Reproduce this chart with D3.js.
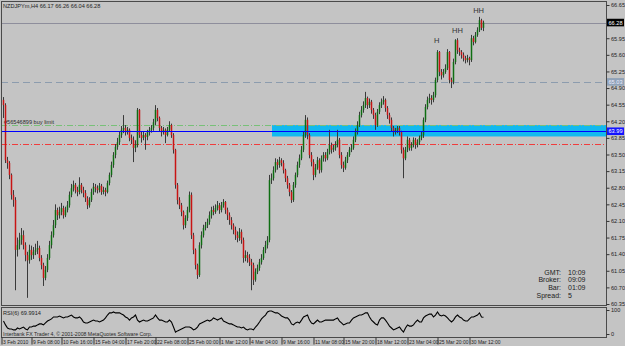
<!DOCTYPE html>
<html><head><meta charset="utf-8">
<script src="https://cdn.jsdelivr.net/npm/d3@7"></script>
<style>body{margin:0;background:#c4c4c4}svg{display:block}text{font-family:"Liberation Sans",Arial,sans-serif}</style>
</head><body><svg id="c" width="625" height="346"></svg>
<script>
// ---------------- DATA ----------------
const symbolTitle = "NZDJPYm,H4 66.17 66.26 66.04 66.28";
const firstOpen = 64.65;
const closes = [
64.54,63.38,63.32,63.07,62.65,62.54,61.49,61.59,61.70,61.80,
61.59,61.38,61.27,61.49,61.38,61.45,61.49,61.53,61.32,61.17,
60.90,61.07,61.32,61.59,61.80,62.01,62.33,62.22,62.29,62.37,
62.22,62.33,62.43,62.65,62.79,62.86,62.75,62.71,62.86,62.75,
62.69,62.58,62.43,62.54,62.71,62.82,62.79,62.75,62.84,62.71,
62.75,62.71,62.90,63.07,63.28,63.49,63.66,63.76,63.91,64.02,
64.06,63.97,64.02,63.85,63.81,63.64,63.70,64.44,63.91,63.85,
63.91,63.87,63.97,64.02,64.06,64.18,64.44,64.27,64.06,63.97,
64.02,63.91,64.02,64.12,63.91,63.60,62.86,62.54,62.43,62.29,
62.01,62.16,62.33,62.65,61.80,61.49,61.17,60.96,61.59,61.80,
61.95,62.01,62.08,62.22,62.33,62.29,62.37,62.43,62.33,62.43,
62.50,62.33,62.22,62.12,62.01,61.91,61.80,61.74,61.87,61.70,
61.32,61.38,61.32,61.23,61.17,60.86,61.03,61.11,61.23,61.32,
61.49,61.59,61.70,62.96,63.00,63.17,63.34,63.28,63.38,63.32,
63.17,63.00,62.86,62.71,62.54,62.86,63.07,63.28,63.42,63.60,
63.91,64.23,63.91,63.49,63.34,63.07,63.22,63.38,63.17,63.42,
63.49,63.42,63.55,63.70,63.60,63.64,63.70,63.81,63.49,63.28,
63.22,63.38,63.49,63.60,63.64,63.81,63.97,64.12,64.33,64.44,
64.54,64.69,64.54,64.61,64.44,64.33,64.12,64.40,64.54,64.61,
64.65,64.48,64.33,64.23,64.06,63.97,64.02,64.06,63.97,63.60,
63.42,63.60,63.81,63.64,63.70,63.81,63.70,63.76,63.85,63.91,
64.23,64.50,64.65,64.69,64.65,64.75,65.07,65.66,65.24,65.17,
65.24,65.32,65.66,65.07,65.03,65.45,65.91,65.70,65.66,65.60,
65.53,65.49,65.53,65.49,65.95,65.87,66.02,66.12,66.33,66.17,
66.28];
const highs = [
64.71,64.58,63.45,63.36,63.10,62.75,62.60,61.75,61.85,61.95,
61.90,61.65,61.45,61.60,61.58,61.55,61.62,61.68,61.58,61.38,
61.22,61.15,61.40,61.68,61.88,62.12,62.45,62.38,62.40,62.48,
62.42,62.40,62.52,62.72,62.88,62.95,62.90,62.82,63.02,62.90,
62.82,62.75,62.62,62.60,62.78,62.90,62.88,62.85,62.90,62.88,
62.82,62.80,62.95,63.12,63.35,63.55,63.72,63.85,63.98,64.10,
64.33,64.12,64.08,64.05,63.92,63.88,63.80,64.48,64.46,63.98,
63.98,63.95,64.02,64.08,64.12,64.25,64.54,64.48,64.30,64.10,
64.08,64.05,64.08,64.20,64.15,63.95,63.62,62.90,62.60,62.48,
62.32,62.22,62.40,62.72,62.70,61.85,61.52,61.20,61.65,61.88,
62.02,62.08,62.15,62.30,62.40,62.42,62.45,62.52,62.48,62.50,
62.56,62.52,62.38,62.28,62.18,62.05,61.98,61.88,61.95,61.92,
61.75,61.48,61.45,61.40,61.30,61.22,61.10,61.18,61.30,61.40,
61.55,61.68,61.78,63.07,63.10,63.25,63.42,63.40,63.45,63.42,
63.38,63.20,63.05,62.90,62.75,62.92,63.12,63.35,63.50,63.68,
63.98,64.33,64.28,63.95,63.55,63.40,63.30,63.45,63.42,63.48,
63.55,63.55,63.62,64.02,63.75,63.70,63.78,64.02,63.85,63.55,
63.35,63.45,63.55,63.66,63.72,63.88,64.05,64.20,64.40,64.52,
64.62,64.82,64.72,64.68,64.65,64.48,64.38,64.46,64.60,64.68,
64.73,64.68,64.52,64.38,64.28,64.10,64.06,64.10,64.10,64.00,
63.65,63.66,63.88,63.85,63.76,63.86,63.85,63.82,63.90,63.98,
64.28,64.56,64.72,64.78,64.75,64.82,65.12,65.70,65.68,65.30,
65.30,65.40,65.72,65.68,65.12,65.52,65.93,65.95,65.75,65.70,
65.65,65.58,65.60,65.56,66.02,66.00,66.08,66.18,66.40,66.36,
66.32];
const lows = [
64.27,63.32,63.20,62.98,62.55,62.40,60.64,61.35,61.50,61.60,
61.50,61.25,60.48,61.20,61.28,61.30,61.38,61.40,61.25,61.08,
60.73,60.85,61.02,61.28,61.52,61.75,61.95,62.12,62.15,62.22,
62.15,62.18,62.28,62.38,62.60,62.72,62.68,62.62,62.66,62.68,
62.60,62.50,62.35,62.38,62.50,62.65,62.70,62.68,62.70,62.65,
62.66,62.62,62.68,62.85,63.02,63.22,63.42,63.60,63.70,63.85,
63.95,63.90,63.92,63.78,63.72,63.34,63.55,63.65,63.85,63.75,
63.80,63.60,63.80,63.90,63.96,64.00,64.12,64.20,63.98,63.88,
63.92,63.74,63.88,63.98,63.85,63.52,62.78,62.45,62.35,62.20,
61.92,61.95,62.10,62.28,61.72,61.40,61.08,60.88,60.92,61.52,
61.75,61.90,61.95,62.02,62.15,62.22,62.25,62.32,62.25,62.28,
62.38,62.25,62.12,62.02,61.92,61.82,61.70,61.65,61.68,61.62,
61.22,61.25,61.22,61.15,60.64,60.75,60.82,60.98,61.05,61.18,
61.28,61.42,61.52,61.65,62.88,62.95,63.12,63.18,63.22,63.25,
63.10,62.92,62.78,62.62,62.48,62.50,62.80,63.02,63.22,63.38,
63.55,63.85,63.82,63.42,63.25,62.96,63.02,63.18,63.10,63.12,
63.35,63.35,63.38,63.50,63.52,63.55,63.58,63.65,63.42,63.20,
63.13,63.18,63.32,63.45,63.55,63.60,63.76,63.92,64.08,64.28,
64.38,64.48,64.46,64.48,64.36,64.25,64.02,64.08,64.35,64.48,
64.55,64.40,64.25,64.15,63.98,63.88,63.92,63.95,63.90,63.52,
63.00,63.38,63.55,63.58,63.58,63.65,63.62,63.65,63.70,63.80,
63.85,64.18,64.45,64.58,64.55,64.60,64.70,65.02,65.15,65.08,
65.12,65.20,65.28,65.00,64.90,64.98,65.40,65.62,65.58,65.52,
65.46,65.42,65.44,65.38,65.45,65.80,65.84,65.98,66.08,66.12,
66.10];
const rsi6 = [
54,38,25,21,21,17,17,25,21,25,
29,21,17,29,29,33,33,38,42,42,
38,46,54,58,63,71,71,71,75,71,
67,71,71,75,79,71,67,67,71,63,
50,46,46,50,54,58,54,54,50,54,
58,67,79,88,88,92,88,88,88,83,
79,71,67,58,67,71,79,58,50,54,
58,54,54,58,63,67,79,67,58,58,
54,50,50,58,50,29,8,13,17,21,
25,29,29,29,25,17,21,29,42,46,
50,54,58,54,58,67,63,58,63,67,
54,50,46,42,42,38,33,29,29,25,
29,21,17,21,21,17,29,38,50,63,
71,79,92,96,96,92,88,88,83,75,
71,67,67,58,42,38,46,50,46,58,
71,75,79,58,46,42,50,58,50,50,
54,58,58,58,58,58,63,67,54,46,
38,42,46,46,58,67,71,75,79,79,
83,88,88,71,58,50,42,38,58,67,
67,58,46,33,25,17,21,25,29,17,
8,25,38,33,33,38,50,58,50,50,
67,75,79,83,83,71,79,92,79,75,
79,75,67,58,50,58,71,79,71,67,
58,54,54,63,71,71,75,79,88,71,
70];
const rsiLabel = "RSI(6) 69.9914";
const priceTicks = [66.65,66.30,65.95,65.60,65.25,64.90,64.55,64.20,63.85,63.50,63.15,62.80,62.45,62.10,61.75,61.40,61.05,60.70,60.35];
const rsiTicks = [100, 0];
const dateTickBars = [0,15,30,46,62,77,93,109,124,140,156,171,187,203,218,234];
const dateTickLabels = ["3 Feb 2010","9 Feb 08:00","10 Feb 16:00","15 Feb 04:00","17 Feb 20:00","22 Feb 08:00","25 Feb 00:00","1 Mar 12:00","4 Mar 04:00","9 Mar 16:00","11 Mar 08:00","15 Mar 20:00","18 Mar 12:00","23 Mar 04:00","25 Mar 20:00","30 Mar 12:00"];
const bidPrice = 66.28;
const dashedLevel = 65.03;
const buyLimitPrice = 64.12;
const blueLevel = 63.99;
const redLevel = 63.72;
const zoneFromBar = 134.5, zoneTop = 64.12, zoneBottom = 63.88;
const buyLimitText = "#56546899 buy limit";
const swingLabels = ["H","HH","HH"];
const swingBars = [216.8, 227.2, 237.8];
const swingPrices = [65.85, 66.06, 66.48];
const infoNames = ["GMT:","Broker:","Bar:","Spread:"];
const infoValues = ["10:09","09:09","01:09","5"];
const copyright = "Interbank FX Trader 4, \u00a9 2001-2008 MetaQuotes Software Corp.";

// ---------------- DRAW ----------------
const svg = d3.select("#c");
const FONT = '"Liberation Sans",Arial,sans-serif';
const L = 1, R = 606, mT = 1, mB = 305, rT = 307, rB = 337;
const x = d3.scaleLinear().domain([0, 240]).range([3, 483]);
const y = d3.scaleLinear().domain([60.35, 66.65]).range([304, 5]);
const yr = d3.scaleLinear().domain([0, 100]).range([334, 310]);
const bars = closes.map((c, i) => ({ i, o: i ? closes[i - 1] : firstOpen, h: highs[i], l: lows[i], c }));

svg.append("rect").attr("width", 625).attr("height", 346).attr("fill", "#c4c4c4");
svg.append("clipPath").attr("id", "mc").append("rect").attr("x", L).attr("y", mT).attr("width", R - L).attr("height", mB - mT);
const main = svg.append("g").attr("clip-path", "url(#mc)");

// zone
main.append("rect").attr("x", x(zoneFromBar)).attr("y", y(zoneTop)).attr("width", R - x(zoneFromBar))
  .attr("height", y(zoneBottom) - y(zoneTop)).attr("fill", "#12b9ef");

function hline(p, color, dash, w) {
  main.append("line").attr("x1", L).attr("x2", R).attr("y1", Math.round(y(p)) + 0.5).attr("y2", Math.round(y(p)) + 0.5)
    .attr("stroke", color).attr("stroke-width", w || 1).attr("stroke-dasharray", dash || null);
}
hline(bidPrice, "#8e8e9c");
hline(dashedLevel, "#8c9cae", "7,4");
hline(buyLimitPrice, "#78c078", "6,2,1,2");
hline(redLevel, "#f03c3c", "6,2,1,2");

main.append("text").attr("x", 4).attr("y", y(buyLimitPrice) - 1.5).attr("font-size", 5.6).attr("fill", "#2a2a2a").text(buyLimitText);

// candles
const cg = main.append("g");
cg.selectAll("line.w").data(bars).join("line").attr("class", "w")
  .attr("x1", d => x(d.i) + 0.5).attr("x2", d => x(d.i) + 0.5)
  .attr("y1", d => y(d.h)).attr("y2", d => y(d.l)).attr("stroke", "#3a3a3a").attr("stroke-width", 1);
cg.selectAll("rect.b").data(bars).join("rect").attr("class", "b")
  .attr("x", d => x(d.i) - 0.25).attr("width", 1.5)
  .attr("y", d => y(Math.max(d.o, d.c)))
  .attr("height", d => Math.max(1, Math.abs(y(d.o) - y(d.c))))
  .attr("fill", d => d.c >= d.o ? "#0e6e12" : "#c81414");

hline(blueLevel, "#0000ff");

// swing labels
main.selectAll("text.sw").data(swingLabels).join("text").attr("class", "sw")
  .attr("x", (d, i) => x(swingBars[i])).attr("y", (d, i) => y(swingPrices[i]))
  .attr("text-anchor", "middle").attr("font-size", 7.5).attr("fill", "#333").text(d => d);

// title
svg.append("text").attr("x", 3).attr("y", 8).attr("font-size", 5.6).attr("fill", "#1e1e1e").text(symbolTitle);

// info
const info = svg.append("g").attr("font-size", 7).attr("fill", "#1c1c1c");
info.selectAll("text.n").data(infoNames).join("text").attr("class", "n").attr("x", 561).attr("y", (d, i) => 274.5 + i * 7.7).attr("text-anchor", "end").text(d => d);
info.selectAll("text.v").data(infoValues).join("text").attr("class", "v").attr("x", 568).attr("y", (d, i) => 274.5 + i * 7.7).text(d => d);

// frames
const frame = "#4a4a4a";
svg.append("rect").attr("x", L + 0.5).attr("y", mT + 0.5).attr("width", R - L).attr("height", mB - mT).attr("fill", "none").attr("stroke", frame);
svg.append("rect").attr("x", L + 0.5).attr("y", rT + 0.5).attr("width", R - L).attr("height", rB - rT).attr("fill", "none").attr("stroke", frame);

// price axis (labels hidden behind a price box are not drawn, as in the terminal)
const boxes = [bidPrice, dashedLevel, blueLevel];
const shownTicks = priceTicks.filter(t => boxes.every(b => Math.abs(y(t) - y(b)) > 5));
const pa = svg.append("g").attr("transform", `translate(${R + 0.5},0)`)
  .call(d3.axisRight(y).tickValues(shownTicks).tickSize(3).tickPadding(1.5).tickFormat(d3.format(".2f")));
pa.select(".domain").remove();
pa.selectAll("line").attr("stroke", "#333");
pa.selectAll("text").attr("font-size", 5.6).attr("fill", "#222").attr("font-family", FONT);

function priceBox(p, bg, fg) {
  const yy = y(p);
  svg.append("rect").attr("x", R + 1).attr("y", yy - 3.8).attr("width", 17).attr("height", 7.6).attr("fill", bg);
  svg.append("text").attr("x", R + 2.5).attr("y", yy + 2).attr("font-size", 5.6).attr("fill", fg).text(p.toFixed(2));
}
priceBox(bidPrice, "#000", "#fff");
priceBox(dashedLevel, "#90a2b8", "#eef");
priceBox(blueLevel, "#1414ff", "#fff");

// RSI panel
svg.append("path").datum(rsi6).attr("fill", "none").attr("stroke", "#000").attr("stroke-width", 1.1)
  .attr("d", d3.line().x((d, i) => x(i) + 0.5).y(d => yr(d)));
svg.append("text").attr("x", 3).attr("y", 314.5).attr("font-size", 5.6).attr("fill", "#1e1e1e").text(rsiLabel);
svg.append("text").attr("x", 3).attr("y", 335.8).attr("font-size", 5.2).attr("fill", "#2a2a2a").text(copyright);
const ra = svg.append("g").attr("transform", `translate(${R + 0.5},0)`)
  .call(d3.axisRight(yr).tickValues(rsiTicks).tickSize(3).tickPadding(1.5).tickFormat(d3.format("d")));
ra.select(".domain").remove();
ra.selectAll("line").attr("stroke", "#333");
ra.selectAll("text").attr("font-size", 5.6).attr("fill", "#222").attr("font-family", FONT);

// date axis
const da = svg.append("g").attr("transform", `translate(0,${rB + 0.5})`)
  .call(d3.axisBottom(x).tickValues(dateTickBars).tickSize(7).tickFormat((d, i) => dateTickLabels[i]));
da.select(".domain").remove();
da.selectAll("line").attr("stroke", "#333").attr("transform", "translate(-1.5,0)");
da.selectAll("text").attr("font-size", 5).attr("fill", "#222").attr("text-anchor", "start")
  .attr("dy", 0).attr("dx", -0.5).attr("y", 6.3).attr("font-family", FONT);
</script></body></html>
